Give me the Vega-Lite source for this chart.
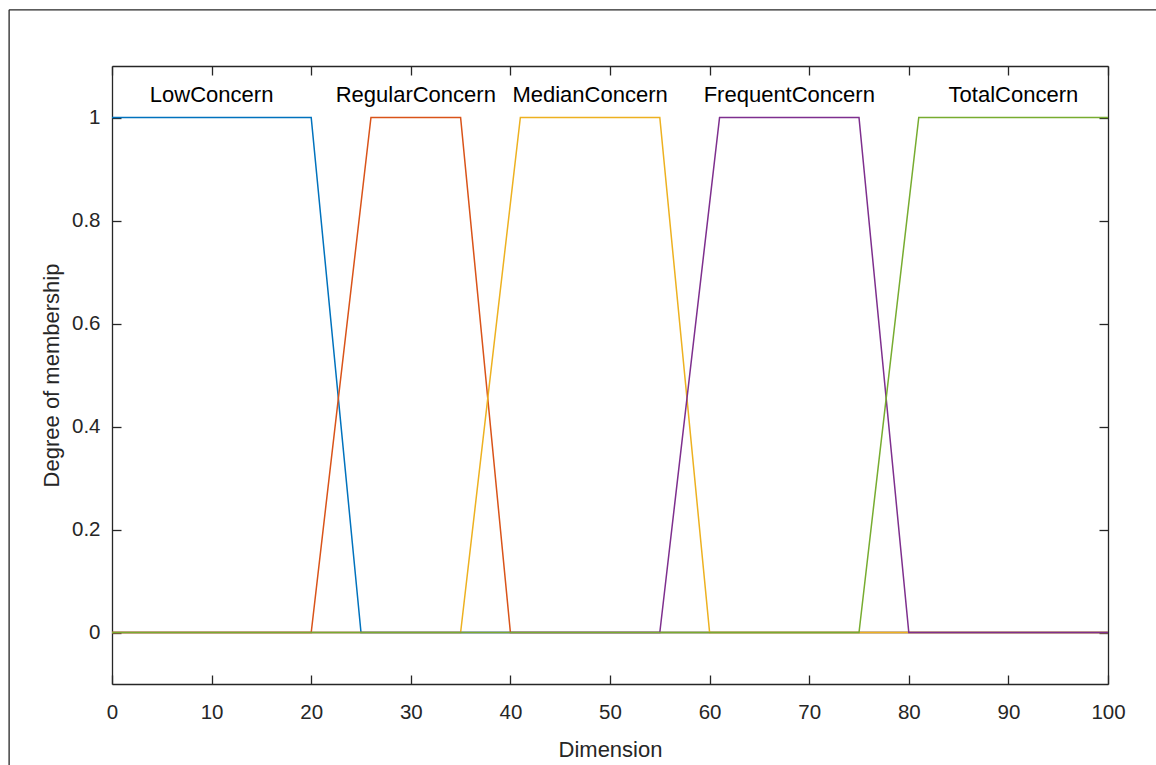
{
  "$schema": "https://vega.github.io/schema/vega-lite/v6.json",
  "width": 996,
  "height": 618,
  "autosize": {"type": "none"},
  "padding": {"left": 112, "top": 66, "right": 48, "bottom": 81},
  "background": "white",
  "config": {
    "view": {"stroke": null},
    "font": "Liberation Sans",
    "axis": {
      "labelFont": "Liberation Sans",
      "titleFont": "Liberation Sans",
      "labelFontSize": 20.5,
      "titleFontSize": 22,
      "titleFontWeight": "normal",
      "labelColor": "#262626",
      "titleColor": "#262626",
      "domainColor": "#262626",
      "tickColor": "#262626",
      "domainWidth": 1.3,
      "tickWidth": 1.3,
      "grid": false,
      "tickSize": -9
    }
  },
  "datasets": {
    "mfs": [
      {"mf": "LowConcern", "x": 0, "y": 1},
      {"mf": "LowConcern", "x": 20, "y": 1},
      {"mf": "LowConcern", "x": 25, "y": 0},
      {"mf": "LowConcern", "x": 100, "y": 0},
      {"mf": "RegularConcern", "x": 0, "y": 0},
      {"mf": "RegularConcern", "x": 20, "y": 0},
      {"mf": "RegularConcern", "x": 26, "y": 1},
      {"mf": "RegularConcern", "x": 35, "y": 1},
      {"mf": "RegularConcern", "x": 40, "y": 0},
      {"mf": "RegularConcern", "x": 100, "y": 0},
      {"mf": "MedianConcern", "x": 0, "y": 0},
      {"mf": "MedianConcern", "x": 35, "y": 0},
      {"mf": "MedianConcern", "x": 41, "y": 1},
      {"mf": "MedianConcern", "x": 55, "y": 1},
      {"mf": "MedianConcern", "x": 60, "y": 0},
      {"mf": "MedianConcern", "x": 100, "y": 0},
      {"mf": "FrequentConcern", "x": 0, "y": 0},
      {"mf": "FrequentConcern", "x": 55, "y": 0},
      {"mf": "FrequentConcern", "x": 61, "y": 1},
      {"mf": "FrequentConcern", "x": 75, "y": 1},
      {"mf": "FrequentConcern", "x": 80, "y": 0},
      {"mf": "FrequentConcern", "x": 100, "y": 0},
      {"mf": "TotalConcern", "x": 0, "y": 0},
      {"mf": "TotalConcern", "x": 75, "y": 0},
      {"mf": "TotalConcern", "x": 81, "y": 1},
      {"mf": "TotalConcern", "x": 100, "y": 1}
    ],
    "labels": [
      {"mf": "LowConcern", "x": 10},
      {"mf": "RegularConcern", "x": 30.5},
      {"mf": "MedianConcern", "x": 48},
      {"mf": "FrequentConcern", "x": 68},
      {"mf": "TotalConcern", "x": 90.5}
    ],
    "frame": [{"x": -10.33, "y": 1.209, "x2": 110, "y2": -0.5}]
  },
  "layer": [
    {
      "data": {"name": "mfs"},
      "mark": {"type": "line", "strokeWidth": 1.5, "clip": true},
      "encoding": {
        "x": {
          "field": "x", "type": "quantitative",
          "scale": {"domain": [0, 100], "nice": false, "zero": false},
          "axis": {"orient": "bottom", "values": [0,10,20,30,40,50,60,70,80,90,100], "title": "Dimension", "labelPadding": 27, "titlePadding": 17, "labelFlush": false}
        },
        "y": {
          "field": "y", "type": "quantitative",
          "scale": {"domain": [-0.1, 1.1], "nice": false, "zero": false},
          "axis": {"orient": "left", "values": [0, 0.2, 0.4, 0.6, 0.8, 1], "title": "Degree of membership", "labelPadding": 21, "titlePadding": 8, "labelFlush": false, "format": "~g"}
        },
        "color": {
          "field": "mf", "type": "nominal",
          "scale": {
            "domain": ["LowConcern", "RegularConcern", "MedianConcern", "FrequentConcern", "TotalConcern"],
            "range": ["#0072BD", "#D95319", "#EDB120", "#7E2F8E", "#77AC30"]
          },
          "legend": null
        }
      }
    },
    {
      "data": {"name": "labels"},
      "mark": {"type": "text", "fontSize": 22, "color": "#000000", "baseline": "alphabetic", "align": "center"},
      "encoding": {
        "x": {
          "field": "x", "type": "quantitative",
          "axis": {"orient": "top", "values": [0,10,20,30,40,50,60,70,80,90,100], "labels": false, "title": null}
        },
        "y": {
          "datum": 1.031, "type": "quantitative",
          "axis": {"orient": "right", "values": [0, 0.2, 0.4, 0.6, 0.8, 1], "labels": false, "title": null}
        },
        "text": {"field": "mf"}
      }
    },
    {
      "data": {"name": "frame"},
      "mark": {"type": "rule", "color": "#262626", "strokeWidth": 1.3, "clip": false},
      "encoding": {
        "x": {"field": "x", "type": "quantitative", "axis": null},
        "y": {"field": "y", "type": "quantitative", "axis": null},
        "y2": {"field": "y2"}
      }
    },
    {
      "data": {"name": "frame"},
      "mark": {"type": "rule", "color": "#262626", "strokeWidth": 1.3, "clip": false},
      "encoding": {
        "x": {"field": "x", "type": "quantitative", "axis": null},
        "x2": {"field": "x2"},
        "y": {"field": "y", "type": "quantitative", "axis": null}
      }
    }
  ],
  "resolve": {"axis": {"x": "independent", "y": "independent"}}
}
